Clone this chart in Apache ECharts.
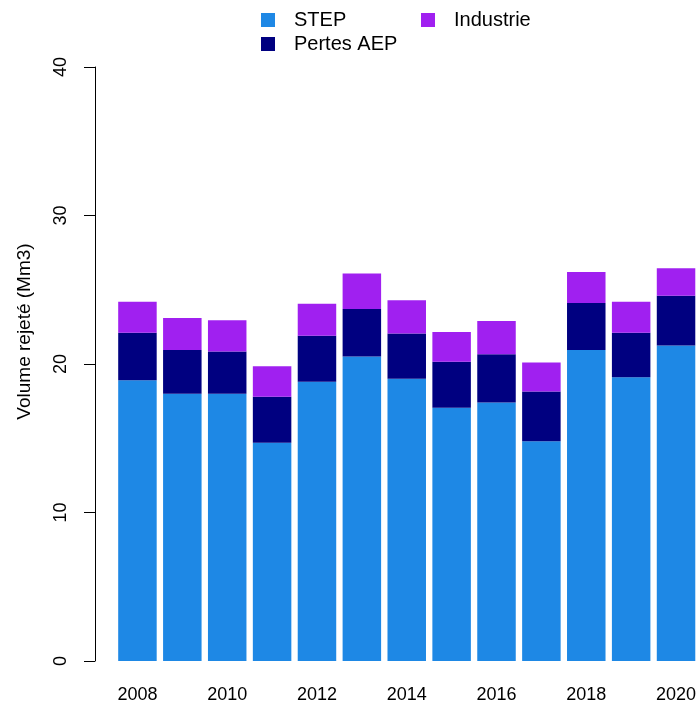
<!DOCTYPE html>
<html>
<head>
<meta charset="utf-8">
<script src="https://cdn.jsdelivr.net/npm/echarts@6/dist/echarts.min.js"></script>
<style>
html,body{margin:0;padding:0;background:#fff;}
#c{width:699px;height:704px;}
</style>
</head>
<body>
<div id="c"></div>
<script>
const years = ['2008','2009','2010','2011','2012','2013','2014','2015','2016','2017','2018','2019','2020'];
const step = [18.9, 18.0, 18.0, 14.7, 18.8, 20.5, 19.0, 17.05, 17.4, 14.8, 20.95, 19.1, 21.25];
const pertes = [3.2, 2.95, 2.85, 3.1, 3.1, 3.2, 3.05, 3.1, 3.25, 3.35, 3.15, 3.0, 3.35];
const industrie = [2.1, 2.15, 2.1, 2.05, 2.15, 2.4, 2.25, 2.0, 2.25, 1.95, 2.1, 2.1, 1.85];
const yTicks = [0, 10, 20, 30, 40];

const font = '"Liberation Sans", Arial, sans-serif';
const chart = echarts.init(document.getElementById('c'), null, {renderer: 'canvas'});
const legendText = {fontFamily: font, fontSize: 20, color: '#000', padding: [0, 0, 0, 14]};
chart.setOption({
  animation: false,
  backgroundColor: '#ffffff',
  legend: [
    {
      data: ['STEP', 'Pertes AEP'],
      orient: 'vertical',
      left: 261, top: 10, padding: 0,
      itemWidth: 14, itemHeight: 14, itemGap: 4,
      icon: 'rect',
      selectedMode: false,
      textStyle: legendText
    },
    {
      data: ['Industrie'],
      orient: 'vertical',
      left: 421, top: 10, padding: 0,
      itemWidth: 14, itemHeight: 14,
      icon: 'rect',
      selectedMode: false,
      textStyle: legendText
    }
  ],
  grid: {left: 115, top: 67, width: 585, bottom: 43, containLabel: false},
  xAxis: {
    type: 'category',
    data: years,
    axisLine: {show: false},
    axisTick: {show: false},
    axisLabel: {interval: 1, fontFamily: font, fontSize: 18, color: '#000', margin: 25}
  },
  yAxis: {
    type: 'value',
    min: 0, max: 40, interval: 10,
    offset: 20,
    name: 'Volume rejeté (Mm3)',
    nameLocation: 'middle',
    nameGap: 61,
    nameTextStyle: {fontFamily: font, fontSize: 19, color: '#000', padding: [0, 0, 0, 65]},
    splitLine: {show: false},
    axisLine: {show: true, lineStyle: {color: '#000', width: 1}},
    axisTick: {show: true, length: 11, lineStyle: {color: '#000'}},
    axisLabel: {
      rotate: 90, fontFamily: font, fontSize: 18, color: '#000', margin: 25,
      formatter: v => yTicks.includes(v) ? String(v) : ''
    }
  },
  series: [
    {name: 'STEP', type: 'bar', stack: 'a', data: step, barWidth: 38.5, itemStyle: {color: '#1E88E5'}},
    {name: 'Pertes AEP', type: 'bar', stack: 'a', data: pertes, barWidth: 38.5, itemStyle: {color: '#000080'}},
    {name: 'Industrie', type: 'bar', stack: 'a', data: industrie, barWidth: 38.5, itemStyle: {color: '#A020F0'}}
  ]
});
</script>
</body>
</html>
